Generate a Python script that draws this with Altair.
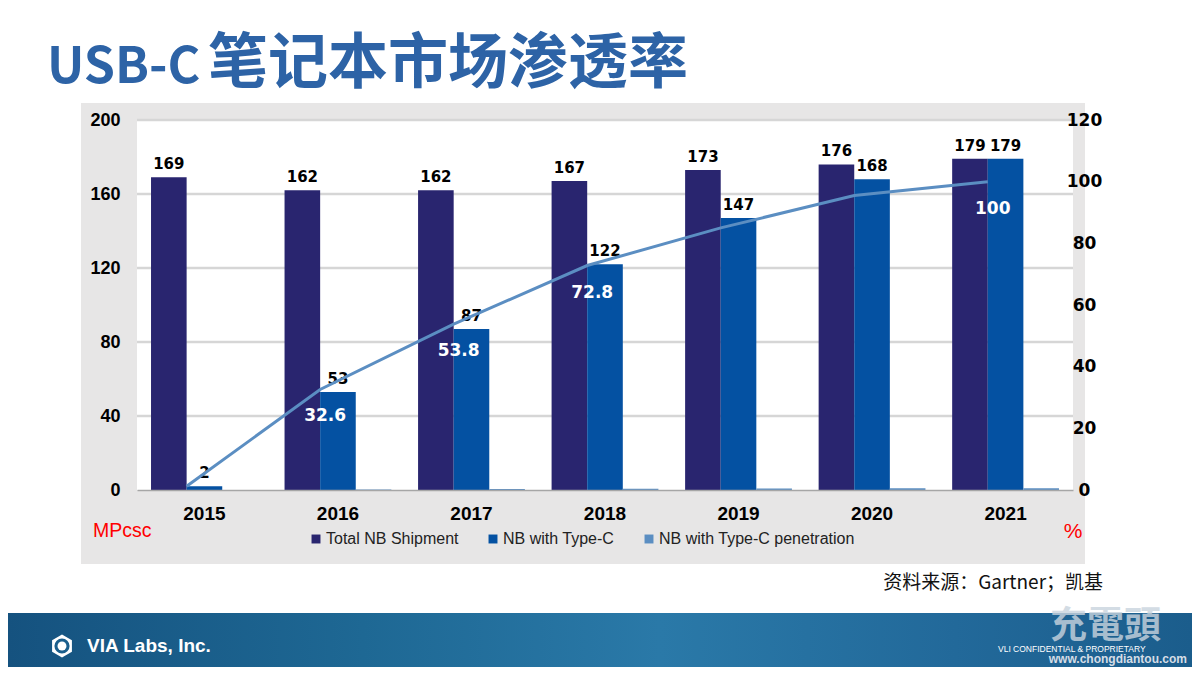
import altair as alt
import pandas as pd

# ---------------- data ----------------
years = ["2015", "2016", "2017", "2018", "2019", "2020", "2021"]
total_nb = [169, 162, 162, 167, 173, 176, 179]
type_c = [2, 53, 87, 122, 147, 168, 179]
penetration = [1.2, 32.6, 53.8, 72.8, 85.0, 95.5, 100.0]
pen_label_show = [False, True, True, True, False, False, True]
series_names = ["Total NB Shipment", "NB with Type-C", "NB with Type-C penetration"]
series_colors = ["#29256F", "#0451A2", "#5B8EC2"]
left_ticks = [0, 40, 80, 120, 160, 200]
right_ticks = [0, 20, 40, 60, 80, 100, 120]
grid_values = [40, 80, 120, 160, 200]

rows = []
for i, yr in enumerate(years):
    rows.append({"year": yr, "series": series_names[0], "value": total_nb[i], "label": str(total_nb[i])})
    rows.append({"year": yr, "series": series_names[1], "value": type_c[i], "label": str(type_c[i])})
    rows.append({"year": yr, "series": series_names[2], "value": penetration[i] / 100.0, "label": ""})
bars_df = pd.DataFrame(rows)
pen_df = pd.DataFrame({
    "year": years,
    "pen": penetration,
    "show": pen_label_show,
    "txt": [f"{v:g}" for v in penetration],
})
grid_df = pd.DataFrame({"v": grid_values})

W, H = 936, 370
BOLD_NUM = "DejaVu Sans"
NARROW = "Liberation Sans Narrow, Liberation Sans, Arial"

x_scale = alt.Scale(domain=years, paddingInner=0.2, paddingOuter=0.105)
xo_scale = alt.Scale(domain=series_names, paddingInner=0, paddingOuter=0)
yL = alt.Scale(domain=[0, 200], nice=False, zero=True)
yR = alt.Scale(domain=[0, 120], nice=False, zero=True)

x_axis = alt.Axis(title=None, labelAngle=0, ticks=False, grid=False,
                  labelFont="Liberation Sans", labelFontSize=19, labelFontWeight="bold",
                  labelColor="#000000", labelPadding=14, domainColor="#A6A6A6",
                  domainWidth=1.5, zindex=1)
left_axis = alt.Axis(title=None, orient="left", values=left_ticks, ticks=False, domain=False,
                     grid=False, labelFont=NARROW, labelFontSize=18, labelFontWeight="bold",
                     labelColor="#000000", labelPadding=17, labelFlush=False, zindex=1)
right_axis = alt.Axis(title=None, orient="right", values=right_ticks, ticks=False, domain=False,
                      grid=False, labelFont=BOLD_NUM, labelFontSize=17, labelFontWeight="bold",
                      labelColor="#000000", labelAlign="center", labelPadding=11,
                      labelFlush=False, zindex=1)

X = alt.X("year:N", scale=x_scale, axis=x_axis, sort=years)
XO = alt.XOffset("series:N", scale=xo_scale, sort=series_names)

one = alt.Data(values=[{"a": 1}])


def rect(x1, x2, y1, y2, color):
    return alt.Chart(one).mark_rect(color=color).encode(
        x=alt.value(x1), x2=alt.value(x2), y=alt.value(y1), y2=alt.value(y2))


def text(s, x, y, **kw):
    return alt.Chart(one).mark_text(**kw).encode(
        x=alt.value(x), y=alt.value(y), text=alt.value(s))


# ---------------- decorations ----------------
gray_box = rect(-56, 948, -17, 444, "#E7E6E6")
white_plot = rect(0, W, 0, H, "#FFFFFF")

footer = alt.Chart(one).mark_rect(
    color=alt.Gradient(
        gradient="linear",
        stops=[
            alt.GradientStop(color="#15527F", offset=0),
            alt.GradientStop(color="#1E6894", offset=0.3),
            alt.GradientStop(color="#2A79A8", offset=0.55),
            alt.GradientStop(color="#22699A", offset=0.8),
            alt.GradientStop(color="#1B5D8C", offset=1),
        ],
        x1=0, x2=1, y1=0, y2=0,
    )
).encode(x=alt.value(-129), x2=alt.value(1055), y=alt.value(493), y2=alt.value(547))

hexagon = "M0,-1L0.87,-0.5L0.87,0.5L0,1L-0.87,0.5L-0.87,-0.5Z"
logo1 = alt.Chart(one).mark_point(shape=hexagon, filled=True, color="white", size=520, opacity=1).encode(
    x=alt.value(-75), y=alt.value(526))
logo2 = alt.Chart(one).mark_point(shape="circle", filled=True, color="#1A5E8C", size=230, opacity=1).encode(
    x=alt.value(-75), y=alt.value(526))
logo3 = alt.Chart(one).mark_point(shape="circle", filled=True, color="white", size=80, opacity=1).encode(
    x=alt.value(-75), y=alt.value(526))

title1 = text("USB-C", -90, -37, font="Noto Sans CJK SC", fontSize=50, fontWeight="bold",
              color="#2D63A6", align="left", baseline="alphabetic")
title2 = text("笔记本市场渗透率", 71, -37, font="Noto Sans CJK SC", fontSize=60, fontWeight="bold",
              color="#2D63A6", align="left", baseline="alphabetic")
unit_l = text("MPcsc", -44, 417, font="Liberation Sans", fontSize=19.5, color="#FF0000",
              align="left", baseline="alphabetic")
unit_r = text("%", 936, 412, font="Liberation Sans", fontSize=21, color="#FF0000",
              align="center", baseline="middle")
source = text("资料来源：Gartner；凯基", 966, 463, font="Noto Sans CJK SC", fontSize=19,
              color="#111111", align="right", baseline="middle")
via = text("VIA Labs, Inc.", -50, 526, font="Liberation Sans", fontSize=19, fontWeight="bold",
           color="white", align="left", baseline="middle")
wm_big = text("充電頭", 913, 507, font="Noto Sans CJK TC", fontSize=37, fontWeight="bold",
              color="#C9D4DE", opacity=0.8, align="left", baseline="middle")
conf = text("VLI CONFIDENTIAL & PROPRIETARY", 861, 529, font="Liberation Sans", fontSize=8.5,
            color="white", align="left", baseline="middle")
wm_url = text("www.chongdiantou.com", 1050, 539, font="Liberation Sans", fontSize=12,
              fontWeight="bold", color="#D5DDE6", align="right", baseline="middle")

# ---------------- left-axis layers ----------------
grid = alt.Chart(grid_df).mark_rule(color="#D6D6D6", strokeWidth=2.5).encode(
    y=alt.Y("v:Q", scale=yL, axis=left_axis))

bars = alt.Chart(bars_df).mark_bar().encode(
    x=X, xOffset=XO,
    y=alt.Y("value:Q", scale=yL, axis=left_axis),
    color=alt.Color("series:N", sort=series_names,
                    scale=alt.Scale(domain=series_names, range=series_colors),
                    legend=alt.Legend(orient="none", legendX=171, legendY=411,
                                      direction="horizontal", title=None,
                                      symbolType="square", symbolSize=80,
                                      symbolStrokeWidth=0, labelFont="Liberation Sans",
                                      labelFontSize=16, labelColor="#222222",
                                      labelLimit=400,
                                      columnPadding=26, labelOffset=2, padding=0)),
)

bar_labels = alt.Chart(bars_df).transform_filter("datum.label != ''").mark_text(
    font=BOLD_NUM, fontSize=15, fontWeight="bold", color="#000000",
    baseline="bottom", dy=-5).encode(
    x=X, xOffset=XO,
    y=alt.Y("value:Q", scale=yL, axis=left_axis),
    text="label:N")

left_layer = alt.layer(grid, bars, bar_labels)

# ---------------- right-axis layers ----------------
XL = alt.X("year:N", scale=x_scale, axis=x_axis, sort=years, bandPosition=1 / 3)
line = alt.Chart(pen_df).mark_line(color="#5B8EC2", strokeWidth=3).encode(
    x=XL, y=alt.Y("pen:Q", scale=yR, axis=right_axis))
line_labels = alt.Chart(pen_df).transform_filter("datum.show").mark_text(
    font=BOLD_NUM, fontSize=17, fontWeight="bold", color="white",
    baseline="middle", dy=27, dx=5).encode(
    x=XL, y=alt.Y("pen:Q", scale=yR, axis=right_axis), text="txt:N")

right_layer = alt.layer(line, line_labels)

chart = alt.layer(
    gray_box, white_plot, footer,
    left_layer, right_layer,
    logo1, logo2, logo3,
    title1, title2, unit_l, unit_r, source, via, wm_big, conf, wm_url,
).resolve_scale(y="independent").properties(
    width=W, height=H,
    padding={"left": 129, "top": 112, "right": 119, "bottom": 177},
    autosize=alt.AutoSizeParams(type="none", contains="content"),
    background="white",
).configure_view(strokeWidth=0)

chart.save("out.html", embed_options={"renderer": "svg", "actions": False})
